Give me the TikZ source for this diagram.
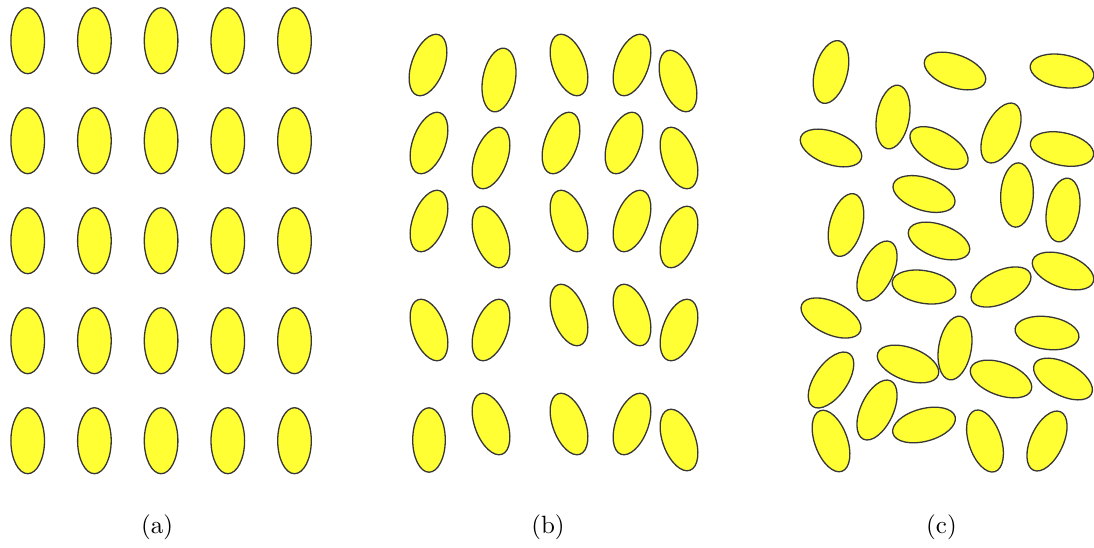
\documentclass[tikz,border=0pt]{standalone}
\usepackage{fontspec}
\newfontfamily\capfont{lmroman10-regular.otf}
\definecolor{ellfill}{RGB}{255,255,51}
\definecolor{ellline}{RGB}{55,55,55}
\tikzset{
  el/.style={fill=ellfill, draw=ellline, line width=1.3pt},
  captext/.style={font=\capfont\fontsize{25}{30}\selectfont, inner sep=0pt}
}
\begin{document}
\begin{tikzpicture}[x=1pt,y=1pt]
\useasboundingbox (0,0) rectangle (1094,-547);
% panel (a)
\foreach \x in {27.7,94.4,161.1,227.8,294.5}
  \foreach \y in {40.7,140.7,240.7,340.7,440.7}
    \draw[el] (\x,-\y) ellipse [x radius=16.8, y radius=33];
% panel (b)
\foreach \x/\y/\t in {
  428/65/20, 499/80/10, 569/65/-20, 632/65/20, 678/81/-20,
  429/143/20, 491/158/20, 561/143/20, 624/143/20, 679/158/-20,
  429/221/20, 491/237/-20, 569/221/-20, 632/221/20, 679/237/20,
  429/330/-20, 491/330/20, 569/315/-20, 632/315/-20, 679/330/20,
  429/440/0, 491/424/-20, 569/424/-20, 632/424/20, 679/440/-20}
  \draw[el, shift={(\x,-\y)}, rotate=-\t] (0,0) ellipse [x radius=16.3, y radius=32.2];
% panel (c)
\foreach \x/\y/\t in {
  831/72/15, 955/71/110, 1062/71/100, 893/117/10,
  831/148/110, 939/148/120, 1001/133/25, 1062/149/102,
  924/194/108, 1017/195/3, 1063/210/10, 846/225/15, 939/241/110,
  877/271/25, 924/287/100, 1001/287/65, 1063/271/110,
  831/318/115, 1047/333/98, 955/348/10, 908/364/110,
  831/380/35, 1001/379/110, 1063/379/118,
  877/410/25, 924/425/75, 831/441/-20, 985/441/-18, 1047/441/25}
  \draw[el, shift={(\x,-\y)}, rotate=-\t] (0,0) ellipse [x radius=16.3, y radius=32.2];
% captions
\node[captext] (capa) at (157,-527) {(a)};
\node[captext] (capb) at (548,-527) {(b)};
\node[captext] (capc) at (941.5,-527) {(c)};
\end{tikzpicture}
\end{document}
